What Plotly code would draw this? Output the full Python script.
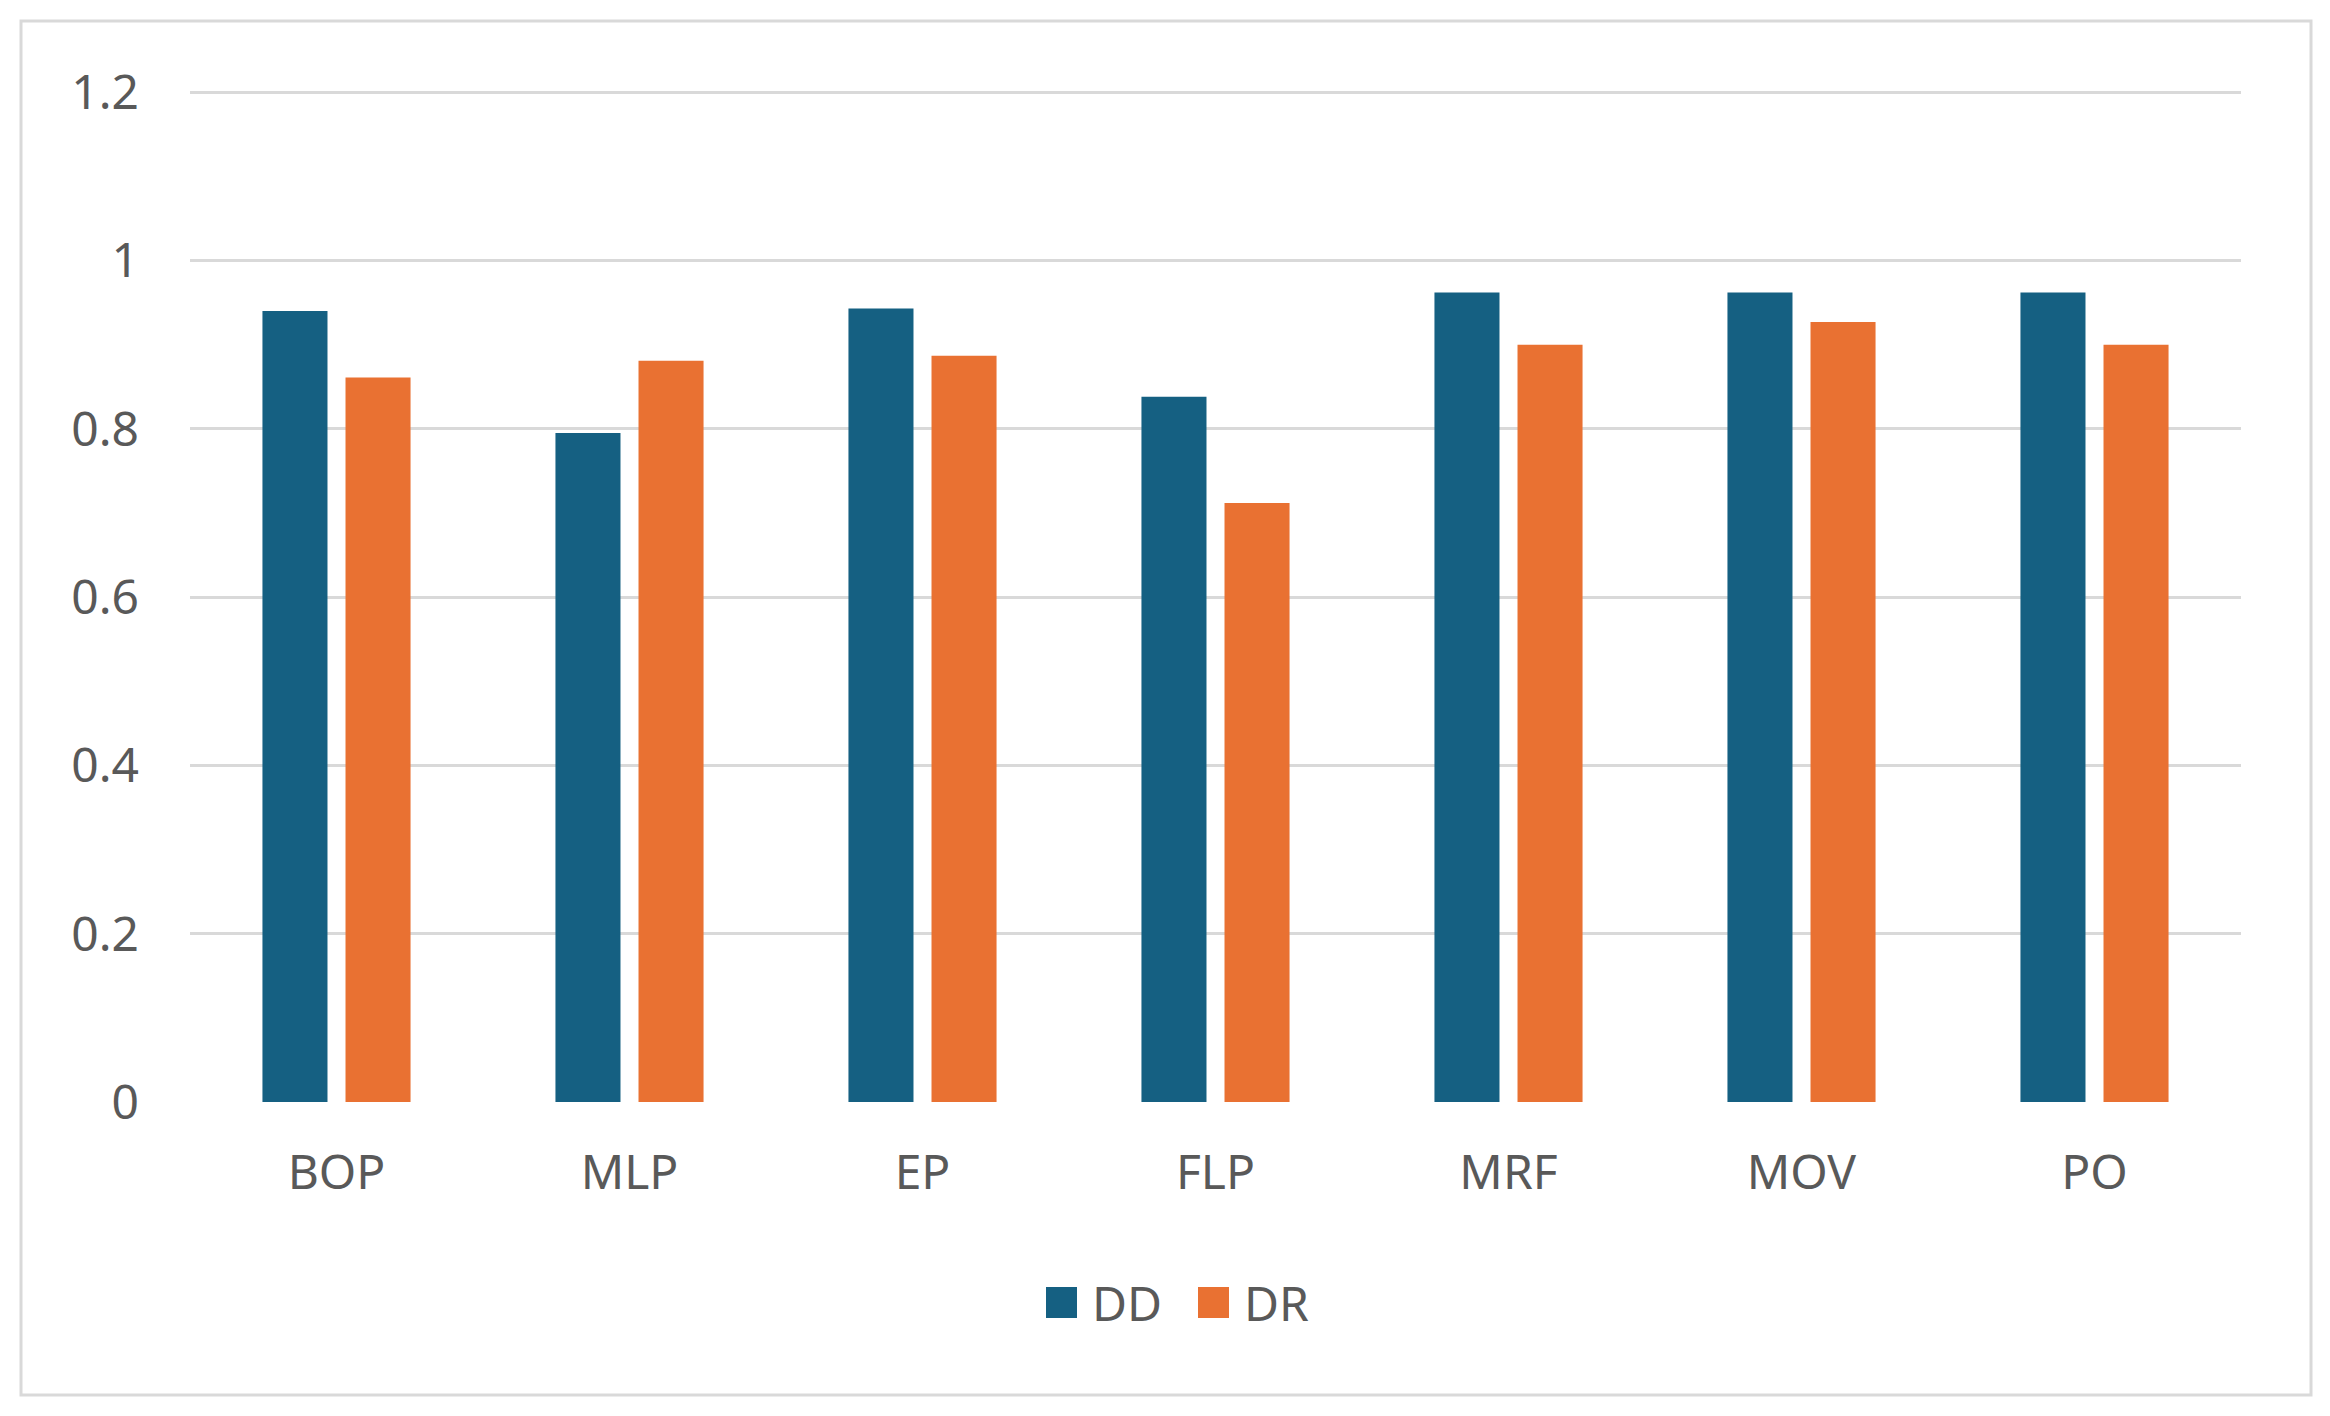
import plotly.graph_objects as go

categories = ["BOP", "MLP", "EP", "FLP", "MRF", "MOV", "PO"]
dd_values = [0.940, 0.795, 0.943, 0.838, 0.962, 0.962, 0.962]
dr_values = [0.861, 0.881, 0.887, 0.712, 0.900, 0.927, 0.900]
y_ticks = [0, 0.2, 0.4, 0.6, 0.8, 1.0, 1.2]
y_tick_labels = ["0", "0.2", "0.4", "0.6", "0.8", "1", "1.2"]
series_names = ["DD", "DR"]
colors = ["#156082", "#E97132"]

OFF = 8  # page body margin
W, H = 2330 - 2 * OFF, 1416 - 2 * OFF
# target positions in window coordinates
L_win, R_win, T_win, B_win = 190, 2241, 91, 1102
L, T = L_win - OFF, T_win - OFF
R = W - (R_win - OFF)
B = H - (B_win - OFF)
pw, ph = W - L - R, H - T - B

def px(xw):
    return (xw - OFF - L) / pw

def py(yw):
    return (H - B - (yw - OFF)) / ph

FONT = "Noto Sans"
TXT = "#595959"

fig = go.Figure()
for name, vals, col in zip(series_names, [dd_values, dr_values], colors):
    fig.add_trace(go.Bar(x=categories, y=vals, name=name, marker_color=col,
                         marker_line_width=0, showlegend=False))

fig.update_layout(
    width=W, height=H,
    margin=dict(l=L, r=R, t=T, b=B, pad=0),
    paper_bgcolor="white", plot_bgcolor="white",
    barmode="group", bargap=0.433, bargroupgap=0.217,
    font=dict(family=FONT, size=48, color=TXT),
    xaxis=dict(showgrid=False, showline=False, zeroline=False, ticks="",
               tickfont=dict(size=48, color=TXT), ticklabelstandoff=38),
    yaxis=dict(range=[0, 1.2015], tickvals=y_ticks, ticktext=y_tick_labels,
               showgrid=True, gridcolor="#d9d9d9", gridwidth=3,
               zeroline=False, showline=False, ticks="",
               tickfont=dict(size=48, color=TXT), ticklabelstandoff=50),
)

# chart border
fig.add_shape(type="rect", xref="paper", yref="paper",
              x0=px(21), x1=px(2311), y0=py(1395), y1=py(21),
              line=dict(color="#d9d9d9", width=3), layer="below")

# manual legend
legend_items = [(1046, series_names[0], colors[0]), (1198, series_names[1], colors[1])]
for x0, name, col in legend_items:
    fig.add_shape(type="rect", xref="paper", yref="paper",
                  x0=px(x0), x1=px(x0 + 31), y0=py(1318), y1=py(1287),
                  line=dict(width=0), fillcolor=col)
    fig.add_annotation(xref="paper", yref="paper", x=px(x0 + 44), y=py(1302),
                       text=name, showarrow=False, xanchor="left", yanchor="middle",
                       font=dict(family=FONT, size=48, color=TXT))

fig.write_html("out.html")
